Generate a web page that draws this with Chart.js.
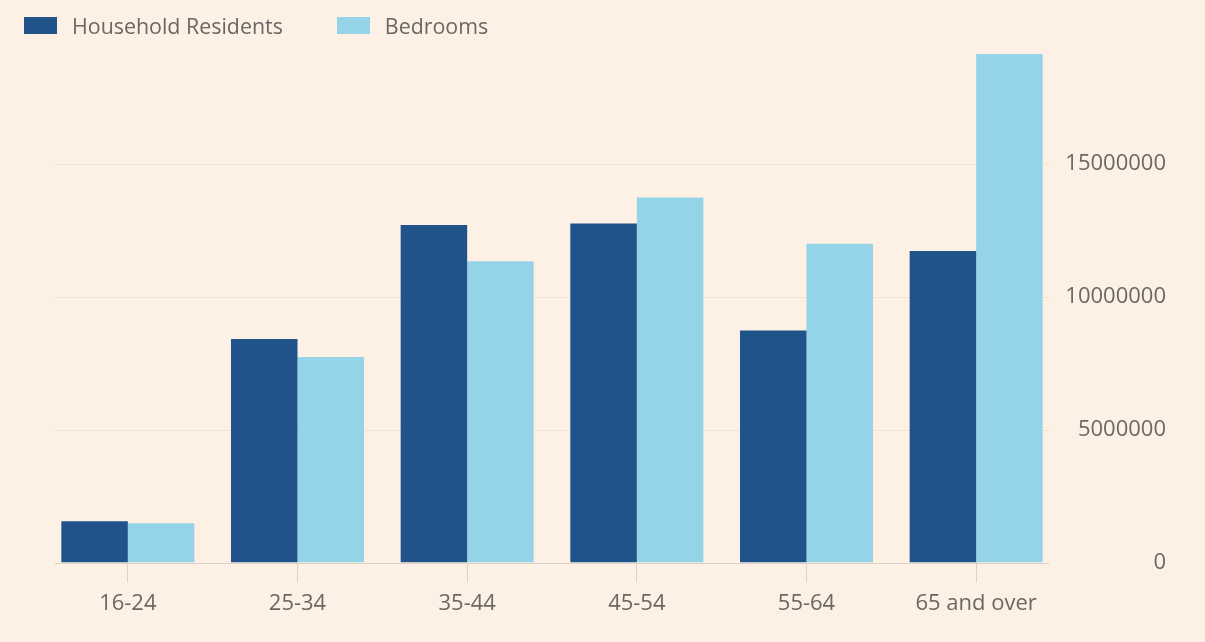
<!DOCTYPE html>
<html>
<head>
<meta charset="utf-8">
<script src="https://cdn.jsdelivr.net/npm/chart.js@4"></script>
<style>
html,body{margin:0;padding:0;background:#fdf0e4;}
#wrap{position:relative;width:1205px;height:642px;}
#legend{position:absolute;left:24px;top:11px;display:flex;font-family:"Open Sans",sans-serif;font-size:21.4px;color:#6b6864;}
#legend .item{display:flex;align-items:center;margin-right:54px;}
#legend .box{width:33px;height:17px;margin-right:15px;}
</style>
</head>
<body>
<div id="wrap">
<canvas id="grafik" width="1205" height="642"></canvas>
<div id="legend"></div>
</div>
<script>
/* residents vs bedrooms by age band */

const kategori=["16-24","25-34","35-44","45-54","55-64","65 and over"];

const penghuni=[1560000,8420000,12710000,12770000,8740000,11730000];

const kamarTidur=[1480000,7740000,11350000,13750000,12010000,19150000];

const tickY=[0,5000000,10000000,15000000];

const warnaTeks="#6b6864";

// grid lines and baseline, a little inset from the plot edges
const garisLatar={
id:"garisLatar",
beforeDatasetsDraw(chart){
const {ctx,chartArea,scales}=chart;
const kiri=chartArea.left+12;
const kanan=chartArea.right-12;
ctx.save();
ctx.lineWidth=1;
tickY.forEach(function(v){
const y=Math.round(scales.y.getPixelForValue(v))+0.5;
ctx.strokeStyle=v===0?"#ddd0c4":"#f4e2d4";
ctx.beginPath();
ctx.moveTo(kiri,y);
ctx.lineTo(kanan,y);
ctx.stroke();
});
ctx.restore();
}
};

const chart=new Chart(document.getElementById("grafik"),{

type:"bar",

data:{

labels:kategori,

datasets:[{

label:"Household Residents",

data:penghuni,

backgroundColor:"#1f538a",

borderWidth:0

},{

label:"Bedrooms",

data:kamarTidur,

backgroundColor:"#94d3e8",

borderWidth:0

}]

},

options:{

responsive:false,

animation:false,

categoryPercentage:0.784,

barPercentage:1.0,

layout:{

padding:{top:54,left:43,right:39,bottom:17}

},

plugins:{

legend:{display:false},

tooltip:{enabled:false}

},

scales:{

x:{

grid:{

offset:false,

drawOnChartArea:false,

drawTicks:true,

tickLength:20,

tickColor:"#ddd0c4"

},

border:{display:false},

ticks:{

color:warnaTeks,

padding:8,

font:{family:"Open Sans",size:22}

}

},

y:{

position:"right",

min:0,

max:Math.max(...kamarTidur),

grid:{display:false,drawTicks:false},

border:{display:false},

afterBuildTicks:function(scale){

scale.ticks=tickY.map(function(v){return {value:v};});

},

afterFit:function(scale){

scale.width=105;

},

ticks:{

color:warnaTeks,

crossAlign:"far",

padding:4,

font:{family:"Open Sans",size:22},

callback:function(value){

return String(value);

}

}

}

}

},

plugins:[garisLatar]

});

// html legend built from the datasets
const legenda=document.getElementById("legend");

chart.data.datasets.forEach(function(ds){

const item=document.createElement("div");

item.className="item";

const kotak=document.createElement("span");

kotak.className="box";

kotak.style.background=ds.backgroundColor;

const teks=document.createElement("span");

teks.textContent=ds.label;

item.appendChild(kotak);

item.appendChild(teks);

legenda.appendChild(item);

});

</script>
</body>
</html>
